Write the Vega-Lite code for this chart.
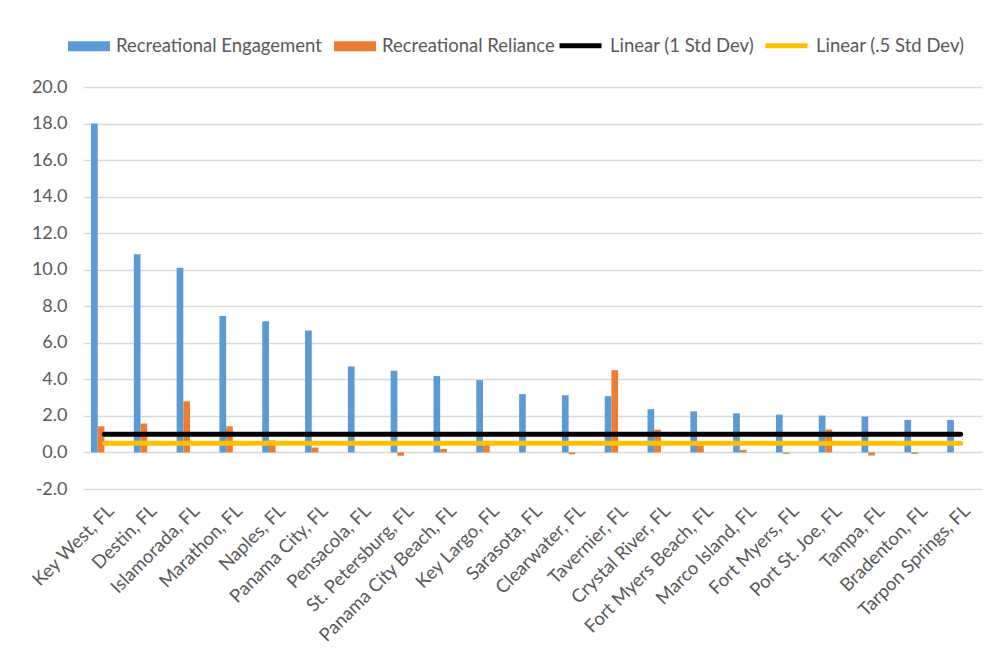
{
  "$schema": "https://vega.github.io/schema/vega-lite/v6.json",
  "autosize": {"type": "none"},
  "padding": {"left": 83, "top": 87, "right": 12, "bottom": 169},
  "width": 899,
  "height": 402,
  "background": "white",
  "config": {
    "font": "Lato",
    "view": {"stroke": null},
    "axis": {"labelFont": "Lato", "labelFontSize": 18, "labelColor": "#595959", "ticks": false, "domain": false, "title": null}
  },
  "datasets": {
    "bars": [
      {"city": "Key West, FL", "series": "Recreational Engagement", "value": 18.0},
      {"city": "Key West, FL", "series": "Recreational Reliance", "value": 1.43},
      {"city": "Destin, FL", "series": "Recreational Engagement", "value": 10.85},
      {"city": "Destin, FL", "series": "Recreational Reliance", "value": 1.58},
      {"city": "Islamorada, FL", "series": "Recreational Engagement", "value": 10.11},
      {"city": "Islamorada, FL", "series": "Recreational Reliance", "value": 2.8},
      {"city": "Marathon, FL", "series": "Recreational Engagement", "value": 7.47},
      {"city": "Marathon, FL", "series": "Recreational Reliance", "value": 1.43},
      {"city": "Naples, FL", "series": "Recreational Engagement", "value": 7.18},
      {"city": "Naples, FL", "series": "Recreational Reliance", "value": 0.66},
      {"city": "Panama City, FL", "series": "Recreational Engagement", "value": 6.67},
      {"city": "Panama City, FL", "series": "Recreational Reliance", "value": 0.27},
      {"city": "Pensacola, FL", "series": "Recreational Engagement", "value": 4.71},
      {"city": "Pensacola, FL", "series": "Recreational Reliance", "value": 0.0},
      {"city": "St. Petersburg, FL", "series": "Recreational Engagement", "value": 4.47},
      {"city": "St. Petersburg, FL", "series": "Recreational Reliance", "value": -0.18},
      {"city": "Panama City Beach, FL", "series": "Recreational Engagement", "value": 4.18},
      {"city": "Panama City Beach, FL", "series": "Recreational Reliance", "value": 0.19},
      {"city": "Key Largo, FL", "series": "Recreational Engagement", "value": 3.96},
      {"city": "Key Largo, FL", "series": "Recreational Reliance", "value": 0.42},
      {"city": "Sarasota, FL", "series": "Recreational Engagement", "value": 3.19},
      {"city": "Sarasota, FL", "series": "Recreational Reliance", "value": 0.0},
      {"city": "Clearwater, FL", "series": "Recreational Engagement", "value": 3.13},
      {"city": "Clearwater, FL", "series": "Recreational Reliance", "value": -0.1},
      {"city": "Tavernier, FL", "series": "Recreational Engagement", "value": 3.08},
      {"city": "Tavernier, FL", "series": "Recreational Reliance", "value": 4.5},
      {"city": "Crystal River, FL", "series": "Recreational Engagement", "value": 2.37},
      {"city": "Crystal River, FL", "series": "Recreational Reliance", "value": 1.25},
      {"city": "Fort Myers Beach, FL", "series": "Recreational Engagement", "value": 2.25},
      {"city": "Fort Myers Beach, FL", "series": "Recreational Reliance", "value": 0.38},
      {"city": "Marco Island, FL", "series": "Recreational Engagement", "value": 2.14},
      {"city": "Marco Island, FL", "series": "Recreational Reliance", "value": 0.14},
      {"city": "Fort Myers, FL", "series": "Recreational Engagement", "value": 2.07},
      {"city": "Fort Myers, FL", "series": "Recreational Reliance", "value": -0.07},
      {"city": "Port St. Joe, FL", "series": "Recreational Engagement", "value": 2.02},
      {"city": "Port St. Joe, FL", "series": "Recreational Reliance", "value": 1.25},
      {"city": "Tampa, FL", "series": "Recreational Engagement", "value": 1.96},
      {"city": "Tampa, FL", "series": "Recreational Reliance", "value": -0.17},
      {"city": "Bradenton, FL", "series": "Recreational Engagement", "value": 1.78},
      {"city": "Bradenton, FL", "series": "Recreational Reliance", "value": -0.08},
      {"city": "Tarpon Springs, FL", "series": "Recreational Engagement", "value": 1.78},
      {"city": "Tarpon Springs, FL", "series": "Recreational Reliance", "value": 0.0}
    ],
    "lines": [
      {"city": "Key West, FL", "line": "Linear (1 Std Dev)", "value": 1},
      {"city": "Tarpon Springs, FL", "line": "Linear (1 Std Dev)", "value": 1},
      {"city": "Key West, FL", "line": "Linear (.5 Std Dev)", "value": 0.5},
      {"city": "Tarpon Springs, FL", "line": "Linear (.5 Std Dev)", "value": 0.5}
    ]
  },
  "encoding": {
    "x": {
      "field": "city",
      "type": "nominal",
      "sort": null,
      "scale": {
        "domain": ["Key West, FL", "Destin, FL", "Islamorada, FL", "Marathon, FL", "Naples, FL", "Panama City, FL", "Pensacola, FL", "St. Petersburg, FL", "Panama City Beach, FL", "Key Largo, FL", "Sarasota, FL", "Clearwater, FL", "Tavernier, FL", "Crystal River, FL", "Fort Myers Beach, FL", "Marco Island, FL", "Fort Myers, FL", "Port St. Joe, FL", "Tampa, FL", "Bradenton, FL", "Tarpon Springs, FL"],
        "paddingInner": 0.374,
        "paddingOuter": 0.187
      },
      "axis": {"labelAngle": -45, "labelAlign": "right", "labelBaseline": "top", "labelPadding": 12, "labelFontSize": 18.5, "grid": false, "labelOverlap": false, "labelLimit": 400}
    },
    "y": {
      "field": "value",
      "type": "quantitative",
      "scale": {"domain": [-2, 20], "nice": false, "zero": false},
      "axis": {
        "values": [-2, 0, 2, 4, 6, 8, 10, 12, 14, 16, 18, 20],
        "labelExpr": "datum.value < 0 ? '-' + format(-datum.value, '.1f') : format(datum.value, '.1f')",
        "grid": true,
        "gridColor": "#d9d9d9",
        "gridWidth": 1.5,
        "labelPadding": 16
      }
    }
  },
  "layer": [
    {
      "data": {"name": "bars"},
      "mark": {"type": "bar"},
      "encoding": {
        "xOffset": {
          "field": "series",
          "type": "nominal",
          "scale": {"domain": ["Recreational Engagement", "Recreational Reliance", "Linear (1 Std Dev)", "Linear (.5 Std Dev)"], "paddingInner": 0, "paddingOuter": 0}
        },
        "color": {
          "field": "series",
          "type": "nominal",
          "scale": {"domain": ["Recreational Engagement", "Recreational Reliance"], "range": ["#5b9bd5", "#ed7d31"]},
          "legend": {
            "orient": "none",
            "legendX": -15,
            "legendY": -62,
            "direction": "horizontal",
            "title": null,
            "symbolType": "M-1,-0.24H1V0.24H-1Z",
            "symbolSize": 1764,
            "symbolStrokeWidth": 0,
            "labelFont": "Lato",
            "labelFontSize": 18.5,
            "labelColor": "#595959",
            "labelOffset": 6,
            "columnPadding": 12,
            "labelLimit": 400
          }
        }
      }
    },
    {
      "data": {"name": "lines"},
      "mark": {"type": "line", "strokeWidth": 5, "strokeCap": "round"},
      "encoding": {
        "detail": {"field": "line"},
        "stroke": {
          "field": "line",
          "type": "nominal",
          "scale": {"domain": ["Linear (1 Std Dev)", "Linear (.5 Std Dev)"], "range": ["#000000", "#ffc000"]},
          "legend": {
            "orient": "none",
            "legendX": 474,
            "legendY": -65,
            "direction": "horizontal",
            "title": null,
            "symbolType": "M-1,0H1",
            "symbolSize": 1764,
            "symbolStrokeWidth": 5,
            "labelFont": "Lato",
            "labelFontSize": 18.5,
            "labelColor": "#595959",
            "labelOffset": 6,
            "columnPadding": 0,
            "labelLimit": 400
          }
        }
      }
    }
  ]
}
